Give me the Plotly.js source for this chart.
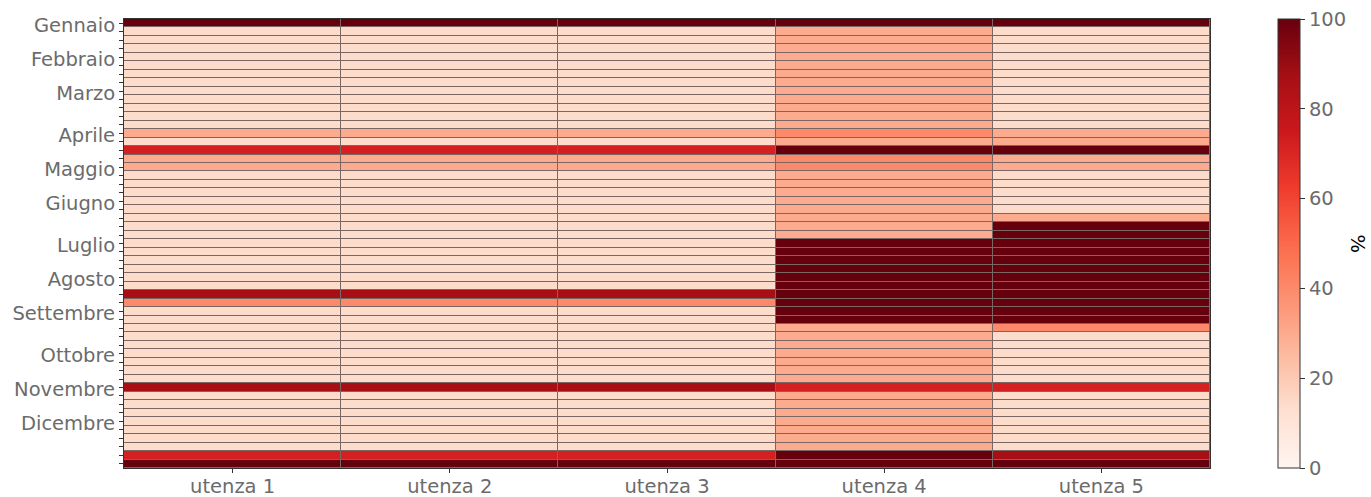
<!DOCTYPE html>
<html>
<head>
<meta charset="utf-8">
<script src="https://cdn.plot.ly/plotly-3.0.1.min.js"></script>
<style>
  html, body { margin: 0; padding: 0; background: #fff; }
  #heatmap { width: 1371px; height: 497px; }
</style>
</head>
<body>
<div id="heatmap"></div>
<script>
// utenze (columns) and weekly percentages, one array per utenza (53 weeks, top to bottom)
var utenze = ['utenza 1', 'utenza 2', 'utenza 3', 'utenza 4', 'utenza 5'];

var u1 = [100,
    14, 14, 14, 14, 14, 14, 14, 14, 14, 14, 14, 14,
    30, 14, 72, 30, 30,
    14, 14, 14, 14, 14, 14, 14, 14, 14, 14, 14, 14, 14, 14,
    87, 40,
    14, 14, 14, 14, 14, 14, 14, 14, 14,
    87,
    14, 14, 14, 14, 14, 14, 14,
    72, 100];
var u2 = [100,
    14, 14, 14, 14, 14, 14, 14, 14, 14, 14, 14, 14,
    30, 14, 72, 30, 30,
    14, 14, 14, 14, 14, 14, 14, 14, 14, 14, 14, 14, 14, 14,
    87, 40,
    14, 14, 14, 14, 14, 14, 14, 14, 14,
    87,
    14, 14, 14, 14, 14, 14, 14,
    72, 100];
var u3 = [100,
    14, 14, 14, 14, 14, 14, 14, 14, 14, 14, 14, 14,
    30, 14, 72, 30, 30,
    14, 14, 14, 14, 14, 14, 14, 14, 14, 14, 14, 14, 14, 14,
    87, 40,
    14, 14, 14, 14, 14, 14, 14, 14, 14,
    87,
    14, 14, 14, 14, 14, 14, 14,
    72, 100];
var u4 = [100,
    30, 30, 30, 30, 30, 30, 30, 30, 30, 30, 30, 30,
    40, 30, 100, 40, 40,
    30, 30, 30, 30, 30, 30, 30, 30,
    100, 100, 100, 100, 100, 100, 100, 100, 100, 100,
    30, 30, 30, 30, 30, 30, 30,
    72,
    30, 30, 30, 30, 30, 30, 30,
    100, 100];
var u5 = [100,
    14, 14, 14, 14, 14, 14, 14, 14, 14, 14, 14, 14,
    30, 30, 100, 30, 30,
    14, 14, 14, 14, 14,
    30,
    100, 100, 100, 100, 100, 100, 100, 100, 100, 100, 100, 100,
    40,
    14, 14, 14, 14, 14, 14,
    72,
    14, 14, 14, 14, 14, 14, 14,
    87, 100];

// month labels and the week row where each one sits
var mesi = ['Gennaio', 'Febbraio', 'Marzo', 'Aprile', 'Maggio', 'Giugno',
            'Luglio', 'Agosto', 'Settembre', 'Ottobre', 'Novembre', 'Dicembre'];
var mesiRighe = [0, 4, 8, 13, 17, 21, 26, 30, 34, 39, 43, 47];

// matplotlib "Reds"
var REDS = [
    [0.0, '#fff5f0'], [0.125, '#fee0d2'], [0.25, '#fcbba1'], [0.375, '#fc9272'],
    [0.5, '#fb6a4a'], [0.625, '#ef3b2c'], [0.75, '#cb181d'], [0.875, '#a50f15'],
    [1.0, '#67000d']
];

var colonne = [u1, u2, u3, u4, u5];
var z = u1.map((_, r) => colonne.map(c => c[r]));
var righe = u1.map((_, r) => r);

// every week gets a tick, only month rows get text
var tickText = righe.map(r => {
    var k = mesiRighe.indexOf(r);
    return k >= 0 ? mesi[k] : '';
});

var FONT = 'DejaVu Sans, sans-serif';
var GREY = '#6b6b6b';

var trace = {
    type: 'heatmap',
    x: utenze,
    y: righe,
    z: z,
    zmin: 0,
    zmax: 100,
    colorscale: REDS,
    xgap: 1,
    ygap: 1,
    hoverinfo: 'x+y+z',
    colorbar: {
        x: 1.0626,
        xanchor: 'left',
        y: 0.5,
        yanchor: 'middle',
        len: 1,
        lenmode: 'fraction',
        thickness: 22,
        thicknessmode: 'pixels',
        outlinewidth: 1,
        outlinecolor: '#333',
        ticks: 'outside',
        ticklen: 5,
        tickcolor: '#333',
        tickvals: [0, 20, 40, 60, 80, 100],
        tickfont: { family: FONT, size: 19.5, color: GREY },
        title: { text: '' },
        xpad: 0,
        ypad: 0
    }
};

var layout = {
    width: 1371,
    height: 497,
    margin: { l: 124, r: 161, t: 19, b: 29 },
    paper_bgcolor: '#fff',
    plot_bgcolor: 'rgb(122,102,98)',
    font: { family: FONT, size: 19.5, color: GREY },
    xaxis: {
        type: 'category',
        ticks: 'outside',
        ticklen: 4,
        tickcolor: '#333',
        ticklabelstandoff: -3,
        showline: true,
        linecolor: '#333',
        linewidth: 1,
        mirror: true,
        showgrid: false,
        zeroline: false,
        tickfont: { family: FONT, size: 19.5, color: GREY }
    },
    yaxis: {
        autorange: 'reversed',
        tickmode: 'array',
        tickvals: righe,
        ticktext: tickText,
        ticks: 'outside',
        ticklen: 4,
        tickcolor: '#333',
        ticklabelshift: -2,
        showline: true,
        linecolor: '#333',
        linewidth: 1,
        mirror: true,
        showgrid: false,
        zeroline: false,
        tickfont: { family: FONT, size: 19.5, color: GREY }
    },
    annotations: [{
        text: '%',
        xref: 'paper',
        yref: 'paper',
        x: 1.1354,
        y: 0.5,
        xanchor: 'center',
        yanchor: 'middle',
        textangle: 90,
        showarrow: false,
        font: { family: FONT, size: 19.5, color: '#000' }
    }]
};

Plotly.newPlot('heatmap', [trace], layout, { displayModeBar: false, staticPlot: true });
</script>
</body>
</html>
